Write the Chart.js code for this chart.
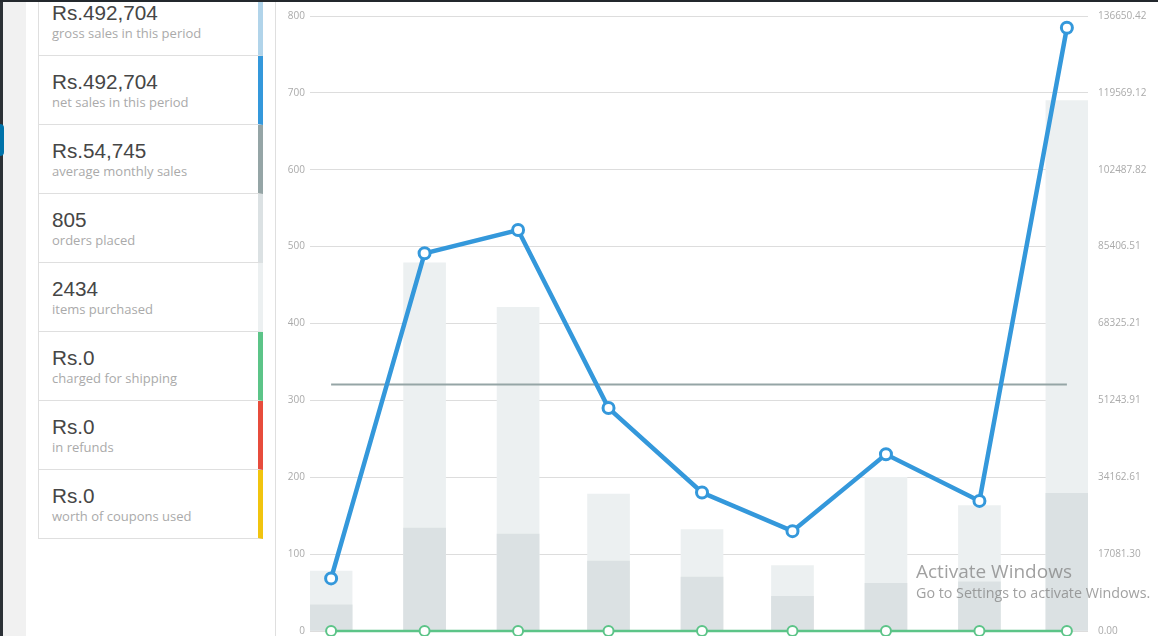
<!DOCTYPE html>
<html lang="en">
<head>
  <meta charset="UTF-8">
  <title>Sales by date</title>
  <style>
    body {
      margin: 0;
      padding: 0;
      width: 1158px;
      height: 636px;
      overflow: hidden;
      background: #f1f1f1;
      font-family: 'Open Sans', sans-serif;
      position: relative;
    }
    .topbar {
      position: absolute; left: 0; top: 0; width: 1158px; height: 2px;
      background: #23282d; z-index: 5;
    }
    .adminbar {
      position: absolute; left: 0; top: 0; width: 3px; height: 636px;
      background: #2c3136;
    }
    .adminbar .current {
      position: absolute; left: 0; top: 124px; width: 4px; height: 32px;
      background: #0073aa; border-radius: 0 8px 8px 0;
    }
    .panel {
      position: absolute; left: 26px; top: 0; width: 1132px; height: 636px;
      background: #fff;
    }
    .legend {
      position: absolute; left: 38px; top: 0; width: 225px;
    }
    .legend .item {
      position: absolute; left: 0; width: 219px; height: 68px;
      border-left: 1px solid #dfdfdf;
      border-bottom: 1px solid #dfdfdf;
      border-right: 5px solid #ccc;
      background: #fff;
    }
    .legend .value {
      position: absolute; left: 13px; top: 14px;
      font-family: 'Liberation Sans', Arial, sans-serif;
      font-size: 20.7px; line-height: 24px; color: #464646;
    }
    .legend .label {
      position: absolute; left: 13px; top: 37px;
      font-size: 13px; line-height: 18px; color: #aaa;
      white-space: nowrap;
    }
    .divider {
      position: absolute; left: 275px; top: 0; width: 1px; height: 636px;
      background: #dfdfdf;
    }
    .chart-container {
      position: absolute; left: 276px; top: 0; width: 882px; height: 647px;
    }
    .watermark {
      position: absolute; left: 916px; top: 558px;
      color: rgba(130, 130, 130, 0.75); z-index: 6; white-space: nowrap;
    }
    .watermark .big { font-size: 19px; line-height: 26px; }
    .watermark .small { font-size: 14.3px; line-height: 18px; }
  </style>
  <script src="https://cdn.jsdelivr.net/npm/chart.js"></script>
</head>
<body>
  <div class="topbar"></div>
  <div class="adminbar"><div class="current"></div></div>
  <div class="panel"></div>
  <div class="legend" id="legend"></div>
  <div class="divider"></div>
  <div class="chart-container">
    <canvas id="salesChart"></canvas>
  </div>
  <div class="watermark">
    <div class="big">Activate Windows</div>
    <div class="small">Go to Settings to activate Windows.</div>
  </div>

  <script>
    // summary boxes
    const summaryValues = ['Rs.492,704', 'Rs.492,704', 'Rs.54,745', '805', '2434', 'Rs.0', 'Rs.0', 'Rs.0'];
    const summaryLabels = ['gross sales in this period', 'net sales in this period', 'average monthly sales',
      'orders placed', 'items purchased', 'charged for shipping', 'in refunds', 'worth of coupons used'];
    const summaryColors = ['#b1d4ea', '#3498db', '#95a5a6', '#dbe1e3', '#ecf0f1', '#5cc488', '#e74c3c', '#f1c40f'];

    // chart data, one point per month
    const months = ['2019-07-01', '2019-08-01', '2019-09-01', '2019-10-01', '2019-11-01',
      '2019-12-01', '2020-01-01', '2020-02-01', '2020-03-01'];
    const itemsPurchased = [78, 479, 421, 178, 132, 85, 200, 163, 690];
    const ordersPlaced = [34, 134, 126, 91, 70, 45, 62, 64, 179];
    const netSales = [11690, 83920, 89100, 49535, 30766, 22183, 39263, 28906, 134044];
    const shippingCharged = [0, 0, 0, 0, 0, 0, 0, 0, 0];
    const averageMonthlySales = 54745;
    const rightTickLabels = ['0.00', '17081.30', '34162.61', '51243.91', '68325.21',
      '85406.51', '102487.82', '119569.12', '136650.42'];

    const legend = document.getElementById('legend');
    summaryValues.forEach((v, i) => {
      const box = document.createElement('div');
      box.className = 'item';
      box.style.top = (-13 + i * 69) + 'px';
      box.style.borderRightColor = summaryColors[i];
      box.innerHTML = '<div class="value">' + v + '</div><div class="label">' + summaryLabels[i] + '</div>';
      legend.appendChild(box);
    });

    // days since first month, so months of different length are spaced like a time axis
    const dayOf = (d) => Math.round((Date.parse(d) - Date.parse(months[0])) / 86400000);
    const xs = months.map(dayOf);
    const points = (arr) => arr.map((y, i) => ({ x: xs[i], y: y }));

    const ctx = document.getElementById('salesChart').getContext('2d');
    const salesChart = new Chart(ctx, {
      data: {
        datasets: [
          {
            type: 'line',
            label: 'Net sales amount',
            data: points(netSales),
            yAxisID: 'y1',
            borderColor: '#3498db',
            borderWidth: 4.5,
            backgroundColor: '#fff',
            pointBackgroundColor: '#fff',
            pointBorderColor: '#3498db',
            pointBorderWidth: 3,
            pointRadius: 5.5,
            tension: 0,
            clip: false,
            order: 0
          },
          {
            type: 'line',
            label: 'Shipping amount',
            data: points(shippingCharged),
            yAxisID: 'y1',
            borderColor: '#5cc488',
            borderWidth: 2.5,
            pointBackgroundColor: '#fff',
            pointBorderColor: '#5cc488',
            pointBorderWidth: 2,
            pointRadius: 5,
            clip: false,
            order: 1
          },
          {
            type: 'line',
            label: 'Average sales amount',
            data: [{ x: xs[0], y: averageMonthlySales }, { x: xs[xs.length - 1], y: averageMonthlySales }],
            yAxisID: 'y1',
            borderColor: '#95a5a6',
            borderWidth: 2,
            pointRadius: 0,
            order: 2
          },
          {
            type: 'bar',
            label: 'Number of orders',
            data: points(ordersPlaced),
            yAxisID: 'y',
            backgroundColor: '#dbe1e3',
            barThickness: 42,
            grouped: false,
            order: 3
          },
          {
            type: 'bar',
            label: 'Number of items sold',
            data: points(itemsPurchased),
            yAxisID: 'y',
            backgroundColor: '#ecf0f1',
            barThickness: 42,
            grouped: false,
            order: 4
          }
        ]
      },
      options: {
        responsive: true,
        maintainAspectRatio: false,
        animation: false,
        layout: { padding: { top: 15, bottom: 5, left: 0, right: 0 } },
        scales: {
          x: {
            type: 'linear',
            display: false,
            offset: false,
            min: xs[0] - 7,
            max: xs[xs.length - 1] + 7
          },
          y: {
            position: 'left',
            min: 0,
            max: 800,
            ticks: {
              stepSize: 100,
              padding: 5,
              color: '#aaa',
              font: { family: 'Open Sans', size: 10 }
            },
            grid: { color: '#dddddd', drawTicks: false },
            border: { display: false },
            afterFit: (scale) => { scale.width = 34; }
          },
          y1: {
            position: 'right',
            min: 0,
            max: parseFloat(rightTickLabels[rightTickLabels.length - 1]),
            afterBuildTicks: (scale) => {
              scale.ticks = rightTickLabels.map(t => ({ value: parseFloat(t) }));
            },
            ticks: {
              padding: 10,
              color: '#aaa',
              font: { family: 'Open Sans', size: 10 },
              callback: (value, i) => rightTickLabels[i]
            },
            grid: { drawOnChartArea: false, drawTicks: false },
            border: { display: false },
            afterFit: (scale) => { scale.width = 70; }
          }
        },
        plugins: {
          legend: { display: false },
          tooltip: { enabled: false }
        }
      }
    });
  </script>
</body>
</html>
